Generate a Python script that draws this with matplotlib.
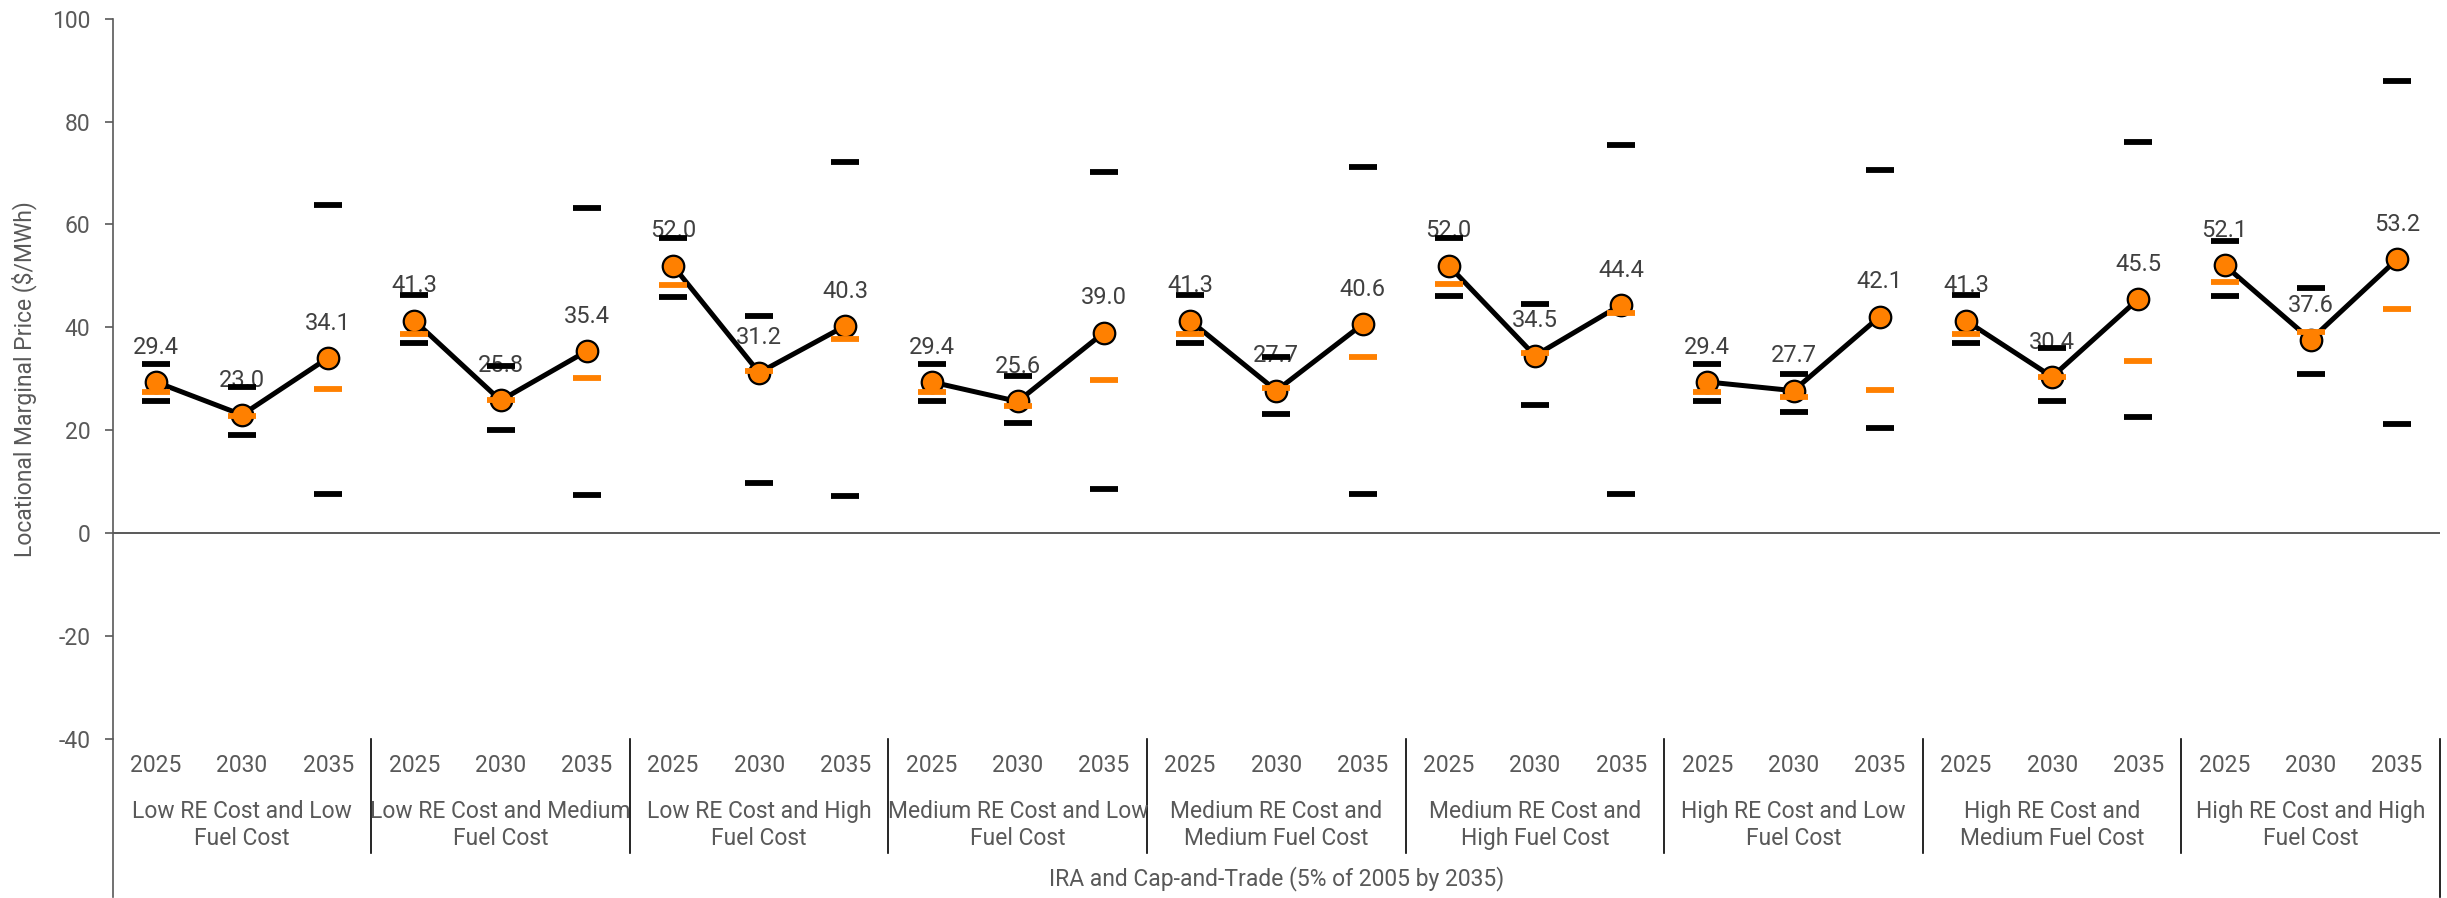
import matplotlib

matplotlib.use("Agg")
import matplotlib.pyplot as plt
import matplotlib.transforms as mtransforms
import numpy as np

plt.rcParams["font.family"] = ["Roboto", "DejaVu Sans"]
plt.rcParams["axes.unicode_minus"] = False

years = ["2025", "2030", "2035"]
scenarios = [
    "Low RE Cost and Low\nFuel Cost",
    "Low RE Cost and Medium\nFuel Cost",
    "Low RE Cost and High\nFuel Cost",
    "Medium RE Cost and Low\nFuel Cost",
    "Medium RE Cost and\nMedium Fuel Cost",
    "Medium RE Cost and\nHigh Fuel Cost",
    "High RE Cost and Low\nFuel Cost",
    "High RE Cost and\nMedium Fuel Cost",
    "High RE Cost and High\nFuel Cost",
]
policy = "IRA and Cap-and-Trade (5% of 2005 by 2035)"

# average LMP, one row per scenario, columns = years
mean_lmp = [
    [29.4, 23.0, 34.1],
    [41.3, 25.8, 35.4],
    [52.0, 31.2, 40.3],
    [29.4, 25.6, 39.0],
    [41.3, 27.7, 40.6],
    [52.0, 34.5, 44.4],
    [29.4, 27.7, 42.1],
    [41.3, 30.4, 45.5],
    [52.1, 37.6, 53.2],
]
max_lmp = [
    [32.8, 28.4, 63.8],
    [46.3, 32.5, 63.2],
    [57.4, 42.2, 72.2],
    [32.8, 30.6, 70.2],
    [46.3, 34.2, 71.2],
    [57.4, 44.5, 75.5],
    [32.8, 30.9, 70.6],
    [46.3, 36.0, 76.0],
    [56.8, 47.6, 87.9],
]
min_lmp = [
    [25.7, 19.1, 7.6],
    [37.0, 20.1, 7.4],
    [45.9, 9.7, 7.2],
    [25.7, 21.5, 8.5],
    [37.0, 23.1, 7.6],
    [46.1, 24.9, 7.6],
    [25.7, 23.5, 20.4],
    [37.0, 25.7, 22.6],
    [46.1, 30.9, 21.2],
]
median_lmp = [
    [27.4, 22.8, 28.0],
    [38.7, 25.8, 30.2],
    [48.3, 31.6, 37.8],
    [27.4, 24.8, 29.8],
    [38.7, 28.3, 34.2],
    [48.4, 35.1, 42.8],
    [27.4, 26.5, 27.8],
    [38.7, 30.3, 33.5],
    [48.8, 39.1, 43.5],
]

ORANGE = "#FF8000"
GREY = "#595959"
LABEL = "#404040"

fig = plt.figure(figsize=(24.47, 8.98), dpi=100)
ax = fig.add_axes([0.04606, 0.17706, 0.95108, 0.80212])

n_years = len(years)
for g in range(len(scenarios)):
    x = np.arange(n_years) + g * n_years
    ax.plot(x, mean_lmp[g], color="black", lw=3.6, zorder=2, solid_capstyle="round")
    ax.plot(x, mean_lmp[g], ls="none", marker="o", ms=15.5, mfc=ORANGE,
            mec="black", mew=1.6, zorder=3)
    ax.plot(x, max_lmp[g], ls="none", marker="_", ms=19.5, mew=4.2, color="black", zorder=5)
    ax.plot(x, min_lmp[g], ls="none", marker="_", ms=19.5, mew=4.2, color="black", zorder=5)
    ax.plot(x, median_lmp[g], ls="none", marker="_", ms=19.5, mew=4.2, color=ORANGE, zorder=6)
    for xi, v in zip(x, mean_lmp[g]):
        ax.annotate(f"{v:.1f}", (xi, v), xytext=(0, 25), textcoords="offset points",
                    ha="center", va="center", fontsize=17, color=LABEL, zorder=4)

ax.axhline(0, color=GREY, lw=1.4, zorder=1)
ax.set_xlim(-0.5, len(scenarios) * n_years - 0.5)
ax.set_ylim(-40, 100)
ax.set_yticks(np.arange(-40, 101, 20))
ax.tick_params(axis="y", length=6, width=1.2, color=GREY, labelcolor=GREY,
               labelsize=16.5, pad=10)
ax.set_xticks(np.arange(len(scenarios) * n_years))
ax.set_xticklabels(years * len(scenarios))
ax.tick_params(axis="x", length=0, labelcolor=GREY, labelsize=16.5, pad=11)

for side in ["top", "right", "bottom"]:
    ax.spines[side].set_visible(False)
ax.spines["left"].set_color(GREY)
ax.spines["left"].set_linewidth(1.2)

ax.set_ylabel("Locational Marginal Price ($/MWh)", fontsize=16.5, color=GREY)
ax.yaxis.set_label_coords(-0.0325, 0.5)

# multi-level category axis below the plot
trans = mtransforms.blended_transform_factory(ax.transData, ax.transAxes)
for g, name in enumerate(scenarios):
    ax.text(g * n_years + 1, -0.1194, name, transform=trans, ha="center", va="center",
            fontsize=16.5, color=GREY, linespacing=1.2)
    if g > 0:
        ax.plot([g * n_years - 0.5] * 2, [0, -0.1583], transform=trans, color="black",
                lw=1.2, clip_on=False)
ax.plot([-0.5, -0.5], [0, -0.2193], transform=trans, color=GREY, lw=1.2, clip_on=False)
end = len(scenarios) * n_years - 0.5
ax.plot([end, end], [0, -0.2193], transform=trans, color="black", lw=1.2, clip_on=False)
ax.text(0.5, -0.1944, policy, transform=ax.transAxes, ha="center", va="center",
        fontsize=16.5, color=GREY)

fig.savefig("out.png", dpi=100)
plt.close(fig)
